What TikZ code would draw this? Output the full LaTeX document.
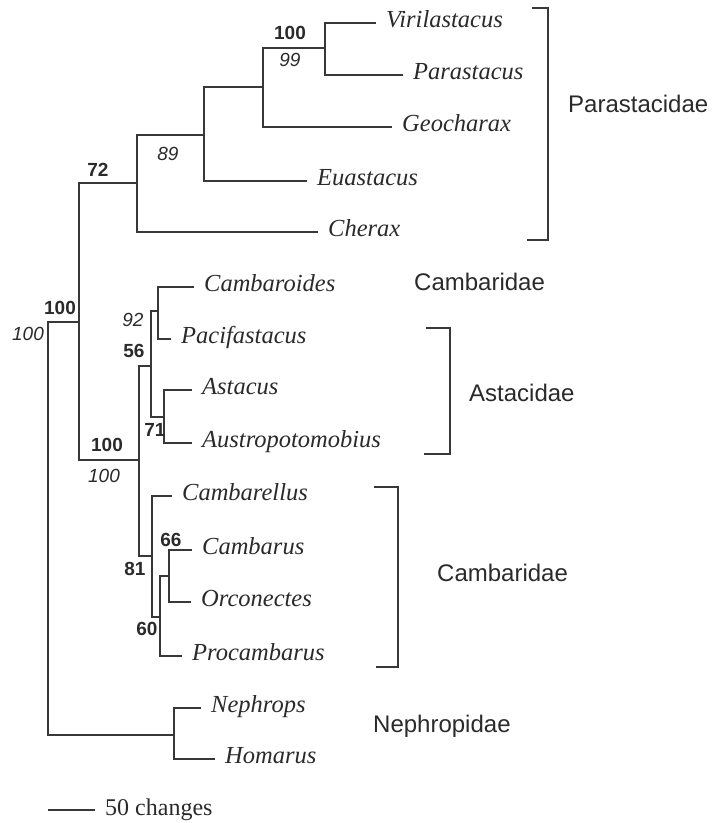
\documentclass[tikz,border=0pt]{standalone}
\usepackage{fontspec}
\setmainfont{Liberation Serif}
\setsansfont{Liberation Sans}
\usepackage{xcolor}
\usepackage{tikz}
\definecolor{ramocol}{HTML}{383838}
\definecolor{testo}{HTML}{2A2A2A}

\begin{document}
\begin{tikzpicture}[x=1pt, y=-1pt,
    ramo/.style={draw=ramocol, line width=1.8pt},
    taxon/.style={anchor=base west, inner sep=0pt, xshift=10pt, yshift=-4.5pt,
        font=\fontsize{24.5}{28}\selectfont\itshape, text=testo},
    clade/.style={anchor=base west, inner sep=0pt,
        font=\fontsize{24}{28}\selectfont\sffamily, text=testo},
    bsb/.style={inner sep=0pt, font=\fontsize{19}{22}\selectfont\sffamily\bfseries, text=testo},
    bsi/.style={inner sep=0pt, font=\fontsize{19}{22}\selectfont\sffamily\itshape, text=testo}]
        \useasboundingbox (0,0) rectangle (713,823);

        % Punte dei rami
        \coordinate (vir) at (376,23);
        \coordinate (par) at (403,75);
        \coordinate (geo) at (392,127);
        \coordinate (eua) at (307,181);
        \coordinate (che) at (318,232);
        \coordinate (cmd) at (194,287);
        \coordinate (pac) at (171,339);
        \coordinate (ast) at (192,390);
        \coordinate (aus) at (192,443);
        \coordinate (cml) at (172,496);
        \coordinate (cmb) at (192,550);
        \coordinate (orc) at (191,602);
        \coordinate (pro) at (182,656);
        \coordinate (nep) at (201,708);
        \coordinate (hom) at (215,759);

        % Nodi interni
        \coordinate (n1) at (325,48);
        \coordinate (n2) at (263,87);
        \coordinate (n3) at (204,135);
        \coordinate (n4) at (137,183);
        \coordinate (n5) at (79,322);
        \coordinate (n6) at (139,460);
        \coordinate (n7) at (151,366);
        \coordinate (n8) at (158,311);
        \coordinate (n9) at (164,417);
        \coordinate (n10) at (152,556);
        \coordinate (n11) at (160,617);
        \coordinate (n12) at (169,576);
        \coordinate (nh) at (174,735);
        \coordinate (root) at (48,528);

        % Rami
        \draw[ramo] (root) |- (n5) (root) |- (nh);
        \draw[ramo] (n5) |- (n4) (n5) |- (n6);
        \draw[ramo] (n4) |- (n3) (n4) |- (che);
        \draw[ramo] (n3) |- (n2) (n3) |- (eua);
        \draw[ramo] (n2) |- (n1) (n2) |- (geo);
        \draw[ramo] (n1) |- (vir) (n1) |- (par);
        \draw[ramo] (n6) |- (n7) (n6) |- (n10);
        \draw[ramo] (n7) |- (n8) (n7) |- (n9);
        \draw[ramo] (n8) |- (cmd) (n8) |- (pac);
        \draw[ramo] (n9) |- (ast) (n9) |- (aus);
        \draw[ramo] (n10) |- (cml) (n10) |- (n11);
        \draw[ramo] (n11) |- (n12) (n11) |- (pro);
        \draw[ramo] (n12) |- (cmb) (n12) |- (orc);
        \draw[ramo] (nh) |- (nep) (nh) |- (hom);

        % Nomi dei taxa
        \node[taxon] (tvir) at (vir) {Virilastacus};
        \node[taxon] (tpar) at (par) {Parastacus};
        \node[taxon] (tgeo) at (geo) {Geocharax};
        \node[taxon] (teua) at (eua) {Euastacus};
        \node[taxon] (tche) at (che) {Cherax};
        \node[taxon] (tcmd) at (cmd) {Cambaroides};
        \node[taxon] (tpac) at (pac) {Pacifastacus};
        \node[taxon] (tast) at (ast) {Astacus};
        \node[taxon] (taus) at (aus) {Austropotomobius};
        \node[taxon] (tcml) at (cml) {Cambarellus};
        \node[taxon] (tcmb) at (cmb) {Cambarus};
        \node[taxon] (torc) at (orc) {Orconectes};
        \node[taxon] (tpro) at (pro) {Procambarus};
        \node[taxon] (tnep) at (nep) {Nephrops};
        \node[taxon] (thom) at (hom) {Homarus};

        % Valori di supporto
        \node[bsb] (b1) at (290,33) {100};
        \node[bsi] (i1) at (290,60) {99};
        \node[bsi] (i3) at (168,154) {89};
        \node[bsb] (b4) at (98,170) {72};
        \node[bsb] (b5) at (60,308) {100};
        \node[bsi] (i5) at (28,334) {100};
        \node[bsi] (i8) at (133,320) {92};
        \node[bsb] (b7) at (134,351) {56};
        \node[bsb] (b9) at (155,430) {71};
        \node[bsb] (b6) at (107,445) {100};
        \node[bsi] (i6) at (104,476) {100};
        \node[bsb] (b12) at (171,540) {66};
        \node[bsb] (b10) at (135,569) {81};
        \node[bsb] (b11) at (147,629) {60};

        % Famiglie
        \draw[ramo] (532,8) -- (548,8) -- (548,240) -- (527,240);
        \node[clade] (fpara) at (568,112) {Parastacidae};
        \node[clade] (fcamb1) at (414,290) {Cambaridae};
        \draw[ramo] (426,328) -- (450,328) -- (450,454) -- (424,454);
        \node[clade] (fasta) at (469,401) {Astacidae};
        \draw[ramo] (374,487) -- (398,487) -- (398,667) -- (376,667);
        \node[clade] (fcamb2) at (437,581) {Cambaridae};
        \node[clade] (fneph) at (373,732) {Nephropidae};

        % Scala
        \coordinate (barra) at (48,810);
        \draw[ramo] (barra) -- ++(47,0) coordinate (barrafine);
        \node[anchor=base west, inner sep=0pt, font=\fontsize{24}{28}\selectfont, text=testo]
            (scala) at (105,815) {50 changes};
    \end{tikzpicture}
\end{document}
